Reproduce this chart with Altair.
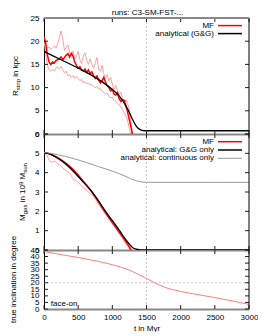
import altair as alt
import pandas as pd

FONT = "Liberation Sans"
W, H1, H2, H3 = 205, 116, 116, 59

# ---------------- data ----------------
x_ticks = [0, 500, 1000, 1500, 2000, 2500, 3000]
grid_x = [1500]

# panel 1: R_strip in kpc
t_mf = list(range(0, 1301, 25))
r_mf = [21.0, 19.5, 17.0, 15.5, 15.0, 15.5, 15.3, 15.8, 16.0, 16.2, 16.6, 16.0, 16.5,
        17.0, 17.3, 16.6, 17.4, 16.8, 15.5, 14.8, 14.2, 14.5, 13.8, 13.6, 14.0, 13.3,
        13.8, 13.0, 13.4, 12.6, 12.0, 12.5, 11.6, 11.0, 11.5, 12.2, 11.2, 10.4, 10.0,
        9.3, 9.6, 8.6, 8.4, 8.9, 7.6, 7.0, 7.4, 7.2, 6.0, 4.6, 3.0, 1.4, -0.5]
r_mf_hi = [21.0, 20.0, 18.5, 18.8, 18.2, 18.6, 19.0, 18.5, 19.5, 20.8, 22.2, 20.5, 18.0,
           18.7, 19.2, 17.5, 16.8, 17.9, 16.2, 16.8, 17.8, 16.0, 15.2, 16.8, 17.5, 15.8,
           15.0, 16.2, 15.0, 14.2, 15.4, 16.5, 14.0, 13.5, 14.8, 13.0, 12.0, 12.8, 11.5,
           12.2, 10.8, 9.6, 10.5, 9.2, 8.5, 9.0, 7.6, 6.8, 7.4, 6.5, 5.0, 2.0, -0.5]
r_mf_lo = [20.0, 17.5, 14.8, 13.8, 13.5, 14.0, 13.6, 14.2, 14.5, 14.0, 14.6, 13.8, 13.2,
           13.5, 12.5, 12.8, 12.2, 12.6, 12.0, 12.4, 12.0, 11.5, 11.8, 11.0, 11.3, 10.8,
           11.0, 10.5, 10.7, 10.2, 10.0, 10.3, 9.6, 9.8, 9.2, 9.0, 8.6, 8.8, 8.2, 7.8,
           7.9, 7.2, 7.0, 6.6, 6.2, 5.8, 5.2, 4.6, 3.8, 2.8, 1.2, -0.5, -1.5]
t_gg = [0, 250, 500, 750, 1000, 1100, 1200, 1250, 1300, 1350, 1400, 1450, 1500, 3000]
r_gg = [17.8, 16.0, 14.2, 12.2, 9.6, 8.2, 6.0, 4.6, 3.0, 1.7, 1.0, 0.75, 0.7, 0.7]
r_ticks = [0, 5, 10, 15, 20, 25]

# panel 2: M_gas in 10^9 M_sun
t_m = [0, 100, 200, 300, 400, 500, 600, 700, 800, 900, 1000, 1100, 1150, 1200, 1250, 1280]
m_mf = [5.05, 4.95, 4.78, 4.55, 4.25, 3.88, 3.45, 3.0, 2.48, 1.93, 1.42, 0.92, 0.68, 0.42, 0.15, -0.05]
m_mf_hi = [5.05, 4.95, 4.74, 4.5, 4.17, 3.83, 3.42, 3.04, 2.54, 2.03, 1.52, 1.02, 0.78, 0.53, 0.27, 0.1]
t_m_lo = [0, 50, 75, 100, 125, 150, 175, 200, 250, 300, 350, 400, 425, 450, 500, 550, 600,
          650, 700, 750, 800, 850, 900, 950, 1000, 1050, 1100, 1150, 1200, 1250, 1270]
m_mf_lo = [5.05, 4.85, 4.65, 4.55, 4.55, 4.6, 4.55, 4.45, 4.35, 4.15, 4.05, 3.85, 3.65, 3.6,
           3.5, 3.3, 3.15, 3.0, 2.85, 2.65, 2.35, 2.1, 1.85, 1.6, 1.35, 1.15, 0.85, 0.6, 0.3,
           0.05, -0.05]
t_a = [0, 100, 200, 300, 400, 500, 600, 700, 800, 900, 1000, 1100, 1200, 1250, 1300, 1350,
       1400, 1450, 1500, 3000]
m_gg = [5.05, 4.95, 4.75, 4.5, 4.18, 3.8, 3.42, 3.02, 2.53, 2.0, 1.52, 1.03, 0.52, 0.3,
        0.12, 0.04, 0.01, 0.0, 0.0, 0.0]
m_cont = [5.05, 5.0, 4.93, 4.85, 4.76, 4.66, 4.55, 4.43, 4.31, 4.2, 4.08, 3.95, 3.8, 3.72,
          3.64, 3.58, 3.54, 3.51, 3.5, 3.5]
m_ticks = [0, 1, 2, 3, 4, 5, 6]

# panel 3: true inclination in degree
t_inc = [0, 250, 500, 750, 1000, 1100, 1200, 1300, 1400, 1500, 1600, 1700, 1800, 1900,
         2000, 2250, 2500, 2750, 3000]
inc = [43.8, 41.5, 39.3, 36.8, 33.8, 32.3, 30.6, 28.5, 26.0, 23.3, 20.5, 18.0, 16.0, 14.6,
       13.4, 11.0, 8.7, 6.2, 3.5]
inc_ticks = [0, 5, 10, 15, 20, 25, 30, 35, 40, 45]
grid_inc = [20]

# ---------------- helpers ----------------
CW = {c: 0.556 for c in "abcdeghnopqu0123456789"}
CW.update({"f": .278, "i": .222, "j": .222, "k": .5, "l": .222, "m": .833, "r": .333,
           "s": .5, "t": .278, "v": .5, "w": .722, "x": .5, "y": .5, "z": .5, " ": .278,
           "M": .833, "R": .722, "G": .778, "&": .667, "(": .333, ")": .333, ":": .278,
           "c": .5})


def tw(s, fs):
    return sum(CW.get(ch, 0.556) for ch in s) * fs


one = pd.DataFrame({"a": [0]})


def vtitle(pieces, x, cy):
    total = sum(tw(t, fs) for t, fs, d in pieces)
    y = cy + total / 2
    out = []
    for t, fs, d in pieces:
        lead = len(t) - len(t.lstrip(" "))
        ys = y - tw(" " * lead, fs)
        out.append(alt.Chart(one).mark_text(text=t.strip(), angle=270, align="left",
                                            baseline="middle", fontSize=fs, font=FONT,
                                            color="black")
                   .encode(x=alt.value(x + d), y=alt.value(ys)))
        y -= tw(t, fs)
    return out


def xenc(labels):
    if labels:
        ax = alt.Axis(values=x_ticks, labels=True, ticks=False, tickSize=0, domainColor="#888888",
                      domainWidth=2, title="t in Myr", labelFlush=False, labelOverlap=False,
                      labelPadding=4, titlePadding=3, grid=False, format="d")
    else:
        ax = alt.Axis(values=x_ticks, labels=False, ticks=False, tickSize=0, domainColor="#888888",
                      domainWidth=2, title=None, grid=False)
    return alt.X("t:Q", scale=alt.Scale(domain=[0, 3000], nice=False, zero=False), axis=ax)


def yenc(dom, vals):
    return alt.Y("v:Q", scale=alt.Scale(domain=dom, nice=False, zero=False),
                 axis=alt.Axis(values=vals, ticks=False, tickSize=0, labelPadding=5,
                               domainColor="black", domainWidth=1, title=None, grid=False,
                               labelOverlap=False, labelFlush=False, format="d"))


def frame(H, X, Y, yt, top=False):
    xt = pd.DataFrame({"t": x_ticks})
    ytd = pd.DataFrame({"v": yt})
    tk = dict(color="#222222", strokeWidth=1)
    L = [
        alt.Chart(xt).mark_rule(**tk).encode(x=X, y=alt.value(0), y2=alt.value(4)),
        alt.Chart(xt).mark_rule(**tk).encode(x=X, y=alt.value(H - 4), y2=alt.value(H)),
        alt.Chart(ytd).mark_rule(**tk).encode(y=Y, x=alt.value(0), x2=alt.value(4)),
        alt.Chart(ytd).mark_rule(**tk).encode(y=Y, x=alt.value(W - 4), x2=alt.value(W)),
        alt.Chart(one).mark_rule(color="black", strokeWidth=1).encode(
            x=alt.value(W), y=alt.value(0), y2=alt.value(H)),
    ]
    if top:
        L.append(alt.Chart(one).mark_rule(color="#888888", strokeWidth=2).encode(
            x=alt.value(0), x2=alt.value(W), y=alt.value(0)))
    return L


def legend(rows, y0, dy):
    L = []
    for i, (lab, col, sw) in enumerate(rows):
        y = y0 + i * dy
        L.append(alt.Chart(one).mark_text(text=lab, align="right", baseline="middle",
                                          fontSize=8, font=FONT, color="black")
                 .encode(x=alt.value(170), y=alt.value(y)))
        L.append(alt.Chart(one).mark_rule(color=col, strokeWidth=sw)
                 .encode(x=alt.value(174), x2=alt.value(198), y=alt.value(y)))
    return L


GRID = dict(color="#bdbdbd", strokeWidth=0.8, strokeDash=[2, 2])

# ---------------- panel 1 ----------------
X1 = xenc(False)
Y1 = yenc([0, 25], r_ticks)
p1_layers = [
    alt.Chart(pd.DataFrame({"t": grid_x})).mark_rule(**GRID).encode(x=X1),
    alt.Chart(pd.DataFrame({"t": t_mf, "v": r_mf_hi})).mark_line(color="#ffa0a0", strokeWidth=1, clip=True).encode(x=X1, y=Y1),
    alt.Chart(pd.DataFrame({"t": t_mf, "v": r_mf_lo})).mark_line(color="#ffa0a0", strokeWidth=1, clip=True).encode(x=X1, y=Y1),
    alt.Chart(pd.DataFrame({"t": t_mf, "v": r_mf})).mark_line(color="#ff0000", strokeWidth=1.5, clip=True).encode(x=X1, y=Y1),
    alt.Chart(pd.DataFrame({"t": t_gg, "v": r_gg})).mark_line(color="black", strokeWidth=1.3, clip=True, interpolate="monotone").encode(x=X1, y=Y1),
] + frame(H1, X1, Y1, r_ticks, top=True) + legend(
    [("MF", "#ff0000", 1.5), ("analytical (G&G)", "black", 1.5)], 7.6, 8) + vtitle(
    [("R", 8, 0), ("strip", 6, 1.8), (" in kpc", 8, 0)], -28, H1 / 2) + [
    alt.Chart(one).mark_text(text="runs: C3-SM-FST-...", align="center", baseline="bottom",
                             fontSize=8, font=FONT, color="black")
    .encode(x=alt.value(W / 2 + 1), y=alt.value(-1.5))
]
p1 = alt.layer(*p1_layers).properties(width=W, height=H1)

# ---------------- panel 2 ----------------
X2 = xenc(False)
Y2 = yenc([0, 6], m_ticks)
p2_layers = [
    alt.Chart(pd.DataFrame({"t": grid_x})).mark_rule(**GRID).encode(x=X2),
    alt.Chart(pd.DataFrame({"t": t_m, "v": m_mf_hi})).mark_line(color="#ffa0a0", strokeWidth=1, clip=True, interpolate="monotone").encode(x=X2, y=Y2),
    alt.Chart(pd.DataFrame({"t": t_m_lo, "v": m_mf_lo})).mark_line(color="#ffa0a0", strokeWidth=1, clip=True, interpolate="monotone").encode(x=X2, y=Y2),
    alt.Chart(pd.DataFrame({"t": t_m, "v": m_mf})).mark_line(color="#ff0000", strokeWidth=1.5, clip=True, interpolate="monotone").encode(x=X2, y=Y2),
    alt.Chart(pd.DataFrame({"t": t_a, "v": m_gg})).mark_line(color="black", strokeWidth=1.3, clip=True, interpolate="monotone").encode(x=X2, y=Y2),
    alt.Chart(pd.DataFrame({"t": t_a, "v": m_cont})).mark_line(color="#9a9a9a", strokeWidth=1, clip=True, interpolate="monotone").encode(x=X2, y=Y2),
] + frame(H2, X2, Y2, m_ticks) + legend(
    [("MF", "#ff0000", 1.5), ("analytical: G&G only", "black", 1.5),
     ("analytical: continuous only", "#9a9a9a", 1)], 7.7, 8.3) + vtitle(
    [("M", 8, 0), ("gas", 6, 1.8), (" in 10", 8, 0), ("9", 6, -2.2), (" M", 8, 0),
     ("sun", 6, 1.8)], -21, H2 / 2)
p2 = alt.layer(*p2_layers).properties(width=W, height=H2)

# ---------------- panel 3 ----------------
X3 = xenc(True)
Y3 = yenc([0, 45], inc_ticks)
p3_layers = [
    alt.Chart(pd.DataFrame({"t": grid_x})).mark_rule(**GRID).encode(x=X3),
    alt.Chart(pd.DataFrame({"v": grid_inc})).mark_rule(**GRID).encode(y=Y3),
    alt.Chart(pd.DataFrame({"t": t_inc, "v": inc})).mark_line(color="#ff7f7f", strokeWidth=1, clip=True, interpolate="monotone").encode(x=X3, y=Y3),
    alt.Chart(pd.DataFrame({"t": [100], "v": [3.8], "s": ["face-on"]})).mark_text(
        align="left", baseline="middle", fontSize=8, font=FONT, color="black").encode(
        x=X3, y=Y3, text="s:N"),
] + frame(H3, X3, Y3, inc_ticks) + vtitle(
    [("true inclination in degree", 8, 0)], -30, H3 / 2)
p3 = alt.layer(*p3_layers).properties(width=W, height=H3)

chart = alt.vconcat(p1, p2, p3, spacing=0, bounds="flush").properties(
    padding={"left": 1, "top": 0, "right": 0, "bottom": 0}
).configure_view(stroke=None).configure_axis(
    labelFont=FONT, titleFont=FONT, labelFontSize=8, titleFontSize=8,
    labelColor="black", titleColor="black", titleFontWeight="normal"
)

chart.save("out.html", embed_options={"renderer": "svg", "actions": False})
